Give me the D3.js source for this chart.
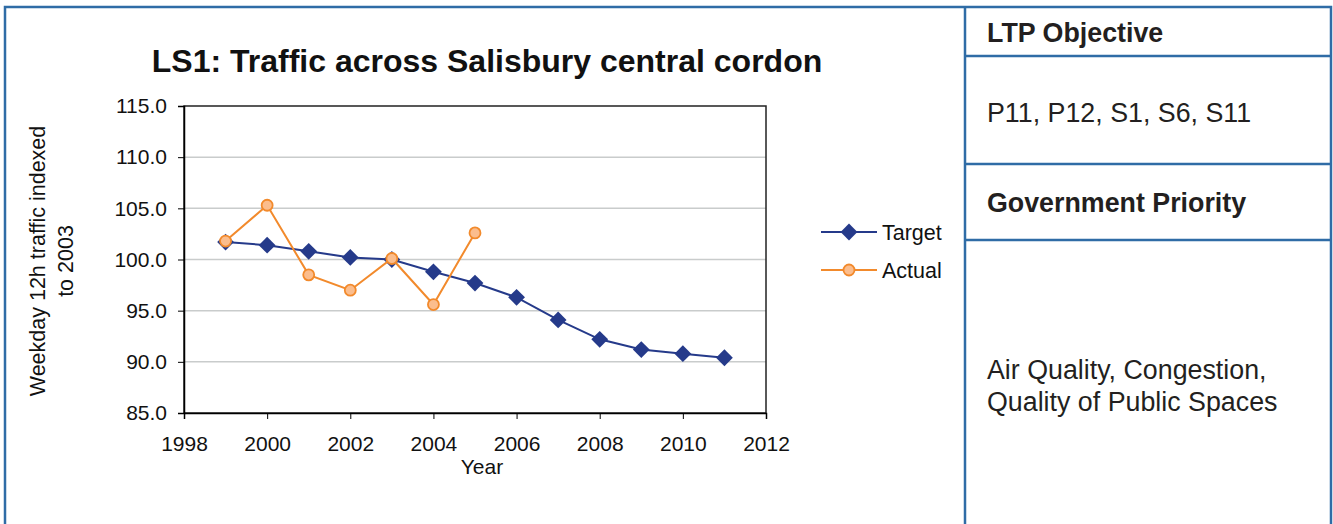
<!DOCTYPE html>
<meta charset="utf-8">
<style>
body { margin: 0; background: #fff; }
svg { font-family: "Liberation Sans", Arial, sans-serif; }
.grid line { stroke: #c9cccc; stroke-width: 1.5; }
.axis path, .axis line { stroke: #000; }
.axis text { font-size: 21px; fill: #111; font-family: "Liberation Sans", Arial, sans-serif; }
</style>
<svg width="1333" height="524"></svg>
<script src="https://d3js.org/d3.v7.min.js"></script>
<script>

var years = [1999, 2000, 2001, 2002, 2003, 2004, 2005, 2006, 2007, 2008, 2009, 2010, 2011];
var target = [101.7, 101.4, 100.8, 100.2, 100.0, 98.8, 97.7, 96.3, 94.1, 92.2, 91.2, 90.8, 90.4];
var actualYears = [1999, 2000, 2001, 2002, 2003, 2004, 2005];
var actual = [101.8, 105.3, 98.5, 97.0, 100.1, 95.6, 102.6];
var yTicks = [85, 90, 95, 100, 105, 110, 115];
var xTicks = [1998, 2000, 2002, 2004, 2006, 2008, 2010, 2012];

var svg = d3.select("svg");
var blue = "#2f6ca6", navy = "#253a8a", orange = "#f28a2c", peach = "#fbbd8d";

// outer frame and the table on the right
svg.append("path")
    .attr("d", "M5,530 V7 H1331 V530 M965,7 V530 M965,56 H1331 M965,164 H1331 M965,240 H1331")
    .attr("fill", "none")
    .attr("stroke", blue)
    .attr("stroke-width", 2.5);

var cells = [
  { t: "LTP Objective", y: 42, b: true },
  { t: "P11, P12, S1, S6, S11", y: 122, b: false },
  { t: "Government Priority", y: 212, b: true },
  { t: "Air Quality, Congestion,", y: 379, b: false },
  { t: "Quality of Public Spaces", y: 411, b: false }
];
svg.selectAll(".cell").data(cells).enter().append("text")
    .attr("x", 987)
    .attr("y", function(d) { return d.y; })
    .attr("font-size", "26.8px")
    .attr("font-weight", function(d) { return d.b ? "bold" : "normal"; })
    .attr("fill", "#231f20")
    .text(function(d) { return d.t; });

// chart
var x = d3.scaleLinear().domain([1998, 2012]).range([184, 766]);
var y = d3.scaleLinear().domain([85, 115]).range([413, 106]);

svg.append("text")
    .attr("x", 487).attr("y", 72)
    .attr("text-anchor", "middle")
    .attr("font-size", "32px").attr("font-weight", "bold")
    .attr("fill", "#111")
    .text("LS1: Traffic across Salisbury central cordon");

svg.append("g").attr("class", "grid")
  .selectAll("line").data(yTicks.slice(1, -1)).enter().append("line")
    .attr("x1", x(1998)).attr("x2", x(2012))
    .attr("y1", function(d) { return y(d); })
    .attr("y2", function(d) { return y(d); });

svg.append("rect")
    .attr("x", x(1998)).attr("y", y(115))
    .attr("width", x(2012) - x(1998)).attr("height", y(85) - y(115))
    .attr("fill", "none").attr("stroke", "#222").attr("stroke-width", 1.5);

svg.append("g").attr("class", "axis")
    .attr("transform", "translate(" + x(1998) + ",0)")
    .call(d3.axisLeft(y).tickValues(yTicks).tickSize(6).tickPadding(11).tickFormat(d3.format(".1f")))
    .call(function(g) { g.select(".domain").attr("stroke-width", 1.5); });

svg.append("g").attr("class", "axis")
    .attr("transform", "translate(0," + y(85) + ")")
    .call(d3.axisBottom(x).tickValues(xTicks).tickSize(6).tickPadding(17).tickFormat(d3.format("d")))
    .call(function(g) { g.select(".domain").attr("stroke-width", 1.5); });

svg.append("text")
    .attr("x", 482).attr("y", 474)
    .attr("text-anchor", "middle").attr("font-size", "21px").attr("fill", "#111")
    .text("Year");

var yl = svg.append("text")
    .attr("transform", "translate(45,261) rotate(-90)")
    .attr("text-anchor", "middle").attr("font-size", "21.5px").attr("fill", "#111");
yl.append("tspan").attr("x", 0).attr("dy", 0).text("Weekday 12h traffic indexed");
yl.append("tspan").attr("x", 0).attr("dy", 28).text("to 2003");

var line = d3.line()
    .x(function(d) { return x(d[0]); })
    .y(function(d) { return y(d[1]); });

var tData = years.map(function(d, i) { return [d, target[i]]; });
var aData = actualYears.map(function(d, i) { return [d, actual[i]]; });

svg.append("path").datum(tData)
    .attr("d", line).attr("fill", "none")
    .attr("stroke", navy).attr("stroke-width", 2);

var diamond = d3.symbol().type(d3.symbolDiamond2).size(180);
svg.selectAll(".tpt").data(tData).enter().append("path")
    .attr("d", diamond)
    .attr("transform", function(d) { return "translate(" + x(d[0]) + "," + y(d[1]) + ")"; })
    .attr("fill", navy);

svg.append("path").datum(aData)
    .attr("d", line).attr("fill", "none")
    .attr("stroke", orange).attr("stroke-width", 2);

svg.selectAll(".apt").data(aData).enter().append("circle")
    .attr("cx", function(d) { return x(d[0]); })
    .attr("cy", function(d) { return y(d[1]); })
    .attr("r", 5.5)
    .attr("fill", peach).attr("stroke", orange).attr("stroke-width", 1.8);

// legend
var leg = svg.append("g");
leg.append("line").attr("x1", 821).attr("x2", 877).attr("y1", 232).attr("y2", 232)
    .attr("stroke", navy).attr("stroke-width", 2);
leg.append("path").attr("d", diamond).attr("transform", "translate(849,232)").attr("fill", navy);
leg.append("text").attr("x", 882).attr("y", 240).attr("font-size", "21.5px").attr("fill", "#111").text("Target");
leg.append("line").attr("x1", 821).attr("x2", 877).attr("y1", 270).attr("y2", 270)
    .attr("stroke", orange).attr("stroke-width", 2);
leg.append("circle").attr("cx", 849).attr("cy", 270).attr("r", 5.5)
    .attr("fill", peach).attr("stroke", orange).attr("stroke-width", 1.8);
leg.append("text").attr("x", 882).attr("y", 278).attr("font-size", "21.5px").attr("fill", "#111").text("Actual");

</script>
